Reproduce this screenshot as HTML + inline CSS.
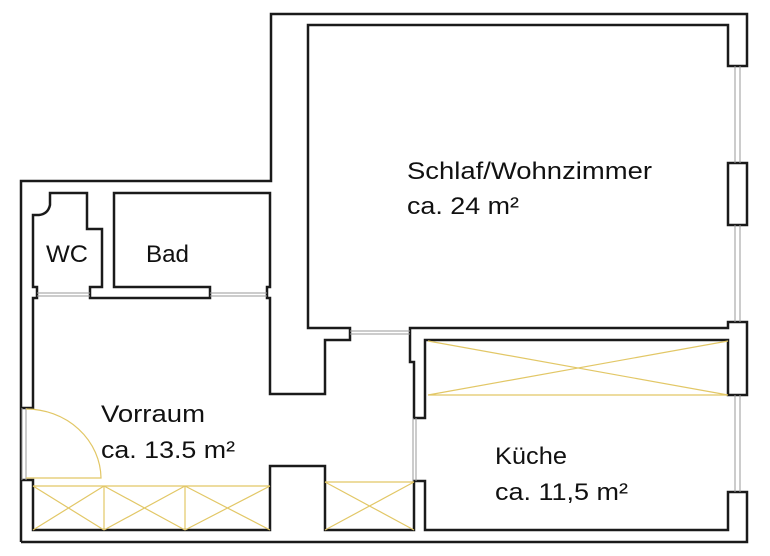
<!DOCTYPE html>
<html><head><meta charset="utf-8"><style>html,body{margin:0;padding:0;background:#fff}svg{display:block}</style></head>
<body>
<svg width="770" height="556" viewBox="0 0 770 556" xmlns="http://www.w3.org/2000/svg">
<g fill="none" stroke="#1a1a1a" stroke-width="2.5" stroke-linejoin="miter">
<path d="M21,542 L21,181 L271,181 L271,14 L747,14 L747,66 L728,66 L728,25 L308,25 L308,328 L350,328 L350,340 L325,340 L325,394 L270,394 L270,298 L267,298 L267,287 L270,287 L270,193 L114,193 L114,287 L210,287 L210,298 L90,298 L90,287 L102,287 L102,229 L87,229 L87,193 L50,193 L50,205 Q48,214 39,215 L33,215 L33,287 L37,287 L37,298 L33,298 L33,408 L21,408"/>
<path d="M21,480 L33,480 L33,530 L270,530 L270,466 L325,466 L325,530 L414,530 L414,481 L425,481 L425,530 L728,530 L728,492 L747,492 L747,542 L21,542"/>
<rect x="728" y="163" width="19" height="62"/>
<path d="M410,328 L728,328 L728,322 L747,322 L747,395 L728,395 L728,340 L425,340 L425,418 L414,418 L414,362 L410,362 Z"/>
</g>
<g stroke="#999" stroke-width="1" fill="none">
<path d="M735,66 V163 M740,66 V163 M735,225 V322 M740,225 V322 M735,395 V492 M740,395 V492"/>
<path d="M22,408 V480 M26,408 V480"/>
<path d="M350,331 H410 M350,334 H410"/>
<path d="M413,418 V481 M416,418 V481"/>
<path d="M37,293 H90 M37,296 H90 M210,293 H267 M210,296 H267"/>
</g>
<g stroke="#e2c766" stroke-width="1.2" fill="none">
<path d="M26,409 A75,70 0 0 1 101,478 L26,478"/>
<path d="M33,486 H270 M104,486 V530 M185,486 V530"/>
<path d="M33,486 L104,530 M104,486 L33,530 M104,486 L185,530 M185,486 L104,530 M185,486 L270,530 M270,486 L185,530"/>
<path d="M325,482 H414 M325,482 L414,530 M414,482 L325,530"/>
<path d="M428,395 H728 M428,341 L728,395 M428,395 L728,341"/>
</g>
<g font-family="Liberation Sans, sans-serif" fill="#111" font-size="24">
<text x="407" y="179" textLength="245" lengthAdjust="spacingAndGlyphs">Schlaf/Wohnzimmer</text>
<text x="407" y="214" textLength="112" lengthAdjust="spacingAndGlyphs">ca. 24 m²</text>
<text x="46" y="262" textLength="42" lengthAdjust="spacingAndGlyphs">WC</text>
<text x="146" y="262" textLength="43" lengthAdjust="spacingAndGlyphs">Bad</text>
<text x="101" y="422" textLength="104" lengthAdjust="spacingAndGlyphs">Vorraum</text>
<text x="101" y="458" textLength="134" lengthAdjust="spacingAndGlyphs">ca. 13.5 m²</text>
<text x="495" y="464" textLength="72" lengthAdjust="spacingAndGlyphs">Küche</text>
<text x="495" y="500" textLength="133" lengthAdjust="spacingAndGlyphs">ca. 11,5 m²</text>
</g>
</svg>
</body></html>
